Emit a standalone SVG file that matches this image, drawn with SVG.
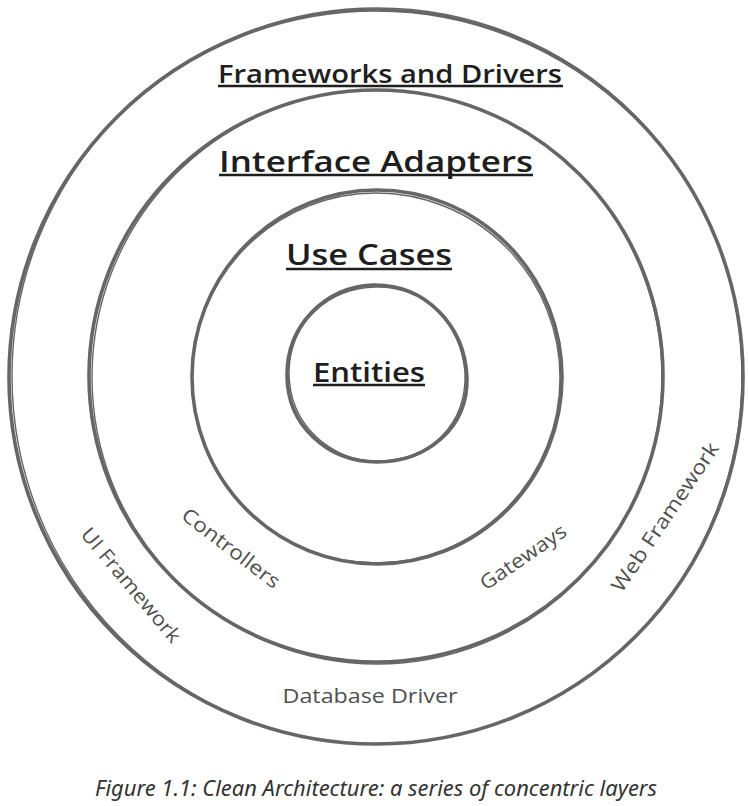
<svg xmlns="http://www.w3.org/2000/svg" width="748" height="806" viewBox="0 0 748 806">
  <style>
    .ring { fill: none; stroke: #666666; stroke-linecap: round; stroke-linejoin: round; }
    .main { stroke-width: 3.6; }
    .thin { stroke-width: 1.4; }
    .title { font-family: "Open Sans", "Liberation Sans", sans-serif; font-weight: 600; fill: #1e1e1e; text-anchor: middle; }
    .uline { stroke: #1e1e1e; stroke-width: 2.4; }
    .label { font-family: "Open Sans", "Liberation Sans", sans-serif; fill: #505050; font-size: 20px; text-anchor: middle; }
    .caption { font-family: "Noto Sans", "Open Sans", sans-serif; font-style: italic; fill: #333333; font-size: 21px; text-anchor: middle; }
  </style>
  <rect width="748" height="806" fill="#ffffff"/>

  <g id="ring-frameworks">
    <ellipse class="ring main" cx="376" cy="377" rx="367" ry="367"/>
    <ellipse class="ring thin" cx="377" cy="376" rx="365" ry="368"/>
  </g>
  <g id="ring-adapters">
    <ellipse class="ring main" cx="376" cy="376" rx="287" ry="286"/>
    <ellipse class="ring thin" cx="377" cy="377" rx="285" ry="287"/>
  </g>
  <g id="ring-usecases">
    <ellipse class="ring main" cx="377" cy="377" rx="185" ry="187"/>
    <ellipse class="ring thin" cx="376" cy="378" rx="184" ry="185"/>
  </g>
  <g id="ring-entities">
    <path class="ring main" d="M 287 375 C 287 325, 325 287, 373 285 C 425 284, 465 325, 467 378 C 468 428, 427 462, 377 462 C 327 462, 287 425, 287 375 Z"/>
    <path class="ring thin" d="M 289 372 C 290 322, 328 288, 376 287 C 422 286, 460 320, 465 372 C 467 425, 430 460, 379 461 C 330 462, 289 424, 289 372 Z"/>
  </g>

  <g id="title-frameworks">
    <text class="title" x="390" y="83" font-size="25" textLength="344" lengthAdjust="spacingAndGlyphs">Frameworks and Drivers</text>
    <line class="uline" x1="218" y1="86" x2="563" y2="86"/>
  </g>
  <g id="title-adapters">
    <text class="title" x="376" y="172" font-size="28" textLength="314" lengthAdjust="spacingAndGlyphs">Interface Adapters</text>
    <line class="uline" x1="219" y1="175" x2="533" y2="175"/>
  </g>
  <g id="title-usecases">
    <text class="title" x="369" y="265" font-size="29" textLength="166" lengthAdjust="spacingAndGlyphs">Use Cases</text>
    <line class="uline" x1="286" y1="269" x2="452" y2="269"/>
  </g>
  <g id="title-entities">
    <text class="title" x="369" y="382" font-size="27" textLength="112" lengthAdjust="spacingAndGlyphs">Entities</text>
    <line class="uline" x1="313" y1="385" x2="425" y2="385"/>
  </g>

  <g id="label-controllers" transform="translate(231 548) rotate(37.5)">
    <text class="label" x="0" y="7" textLength="118" lengthAdjust="spacingAndGlyphs">Controllers</text>
  </g>
  <g id="label-ui" transform="translate(131 585) rotate(50)">
    <text class="label" x="0" y="7" textLength="143" lengthAdjust="spacingAndGlyphs">UI Framework</text>
  </g>
  <g id="label-gateways" transform="translate(523 557) rotate(-34.5)">
    <text class="label" x="0" y="7" textLength="100" lengthAdjust="spacingAndGlyphs">Gateways</text>
  </g>
  <g id="label-web" transform="translate(665 517) rotate(-56)">
    <text class="label" x="0" y="7" textLength="175" lengthAdjust="spacingAndGlyphs">Web Framework</text>
  </g>
  <g id="label-database">
    <text class="label" x="370" y="703" textLength="175" lengthAdjust="spacingAndGlyphs">Database Driver</text>
  </g>

  <text class="caption" x="376" y="796" textLength="562" lengthAdjust="spacingAndGlyphs">Figure 1.1: Clean Architecture: a series of concentric layers</text>
</svg>
